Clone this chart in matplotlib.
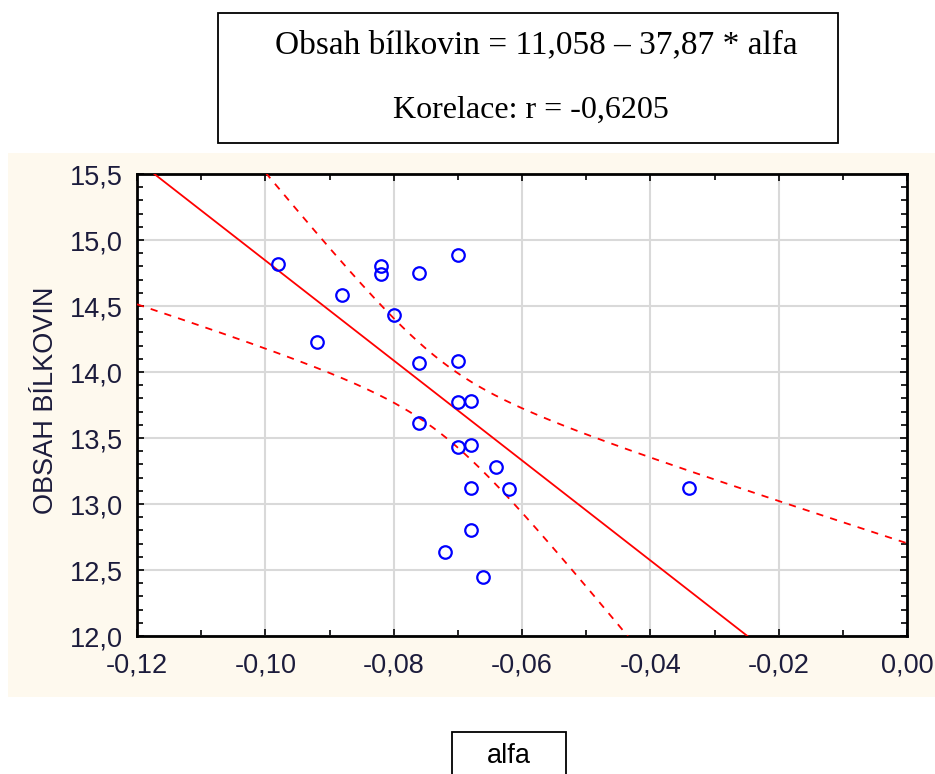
import matplotlib.pyplot as plt
import numpy as np
from matplotlib.patches import Rectangle
from matplotlib.ticker import MultipleLocator, FuncFormatter

# data
alfa = [-0.098, -0.070, -0.082, -0.082, -0.076, -0.088, -0.080, -0.092,
        -0.076, -0.070, -0.070, -0.068, -0.076, -0.070, -0.068, -0.064,
        -0.068, -0.062, -0.068, -0.072, -0.066, -0.034]
bilkoviny = [14.82, 14.89, 14.80, 14.74, 14.75, 14.58, 14.43, 14.23,
             14.07, 14.08, 13.77, 13.78, 13.61, 13.43, 13.45, 13.28,
             13.12, 13.11, 12.80, 12.64, 12.45, 13.12]

# regression from the caption
intercept = 11.058
slope = -37.87
t_95 = 2.086  # t(0.975, df=20)

x_ticks = [-0.12, -0.10, -0.08, -0.06, -0.04, -0.02, 0.00]
y_ticks = [12.0, 12.5, 13.0, 13.5, 14.0, 14.5, 15.0, 15.5]

eq_text = "Obsah bílkovin = 11,058 \u2013 37,87 * alfa"
corr_text = "Korelace: r = -0,6205"
x_label = "alfa"
y_label = "OBSAH BÍLKOVIN"

W, H = 935, 774
fig = plt.figure(figsize=(W / 100, H / 100), dpi=100)
fig.patch.set_facecolor("white")


def fx(px):
    return px / W


def fy(py):
    return 1 - py / H


# cream panel behind the plot
fig.patches.append(Rectangle((fx(8), fy(697)), fx(935) - fx(8), fy(153) - fy(697),
                             transform=fig.transFigure, facecolor="#FEF9EE",
                             edgecolor="none", zorder=-10))

ax = fig.add_axes([fx(137), fy(636), fx(907) - fx(137), fy(174) - fy(636)])
ax.set_facecolor("white")

x = np.array(alfa)
y = np.array(bilkoviny)
n = len(x)
resid = y - (intercept + slope * x)
s = np.sqrt(np.sum(resid ** 2) / (n - 2))
sxx = np.sum((x - x.mean()) ** 2)

xs = np.linspace(-0.12, 0.0, 300)
fit = intercept + slope * xs
hw = t_95 * s * np.sqrt(1 / n + (xs - x.mean()) ** 2 / sxx)

ax.plot(xs, fit, color="red", lw=1.3, zorder=3)
ax.plot(xs, fit + hw, color="red", lw=1.3, ls=(0, (4, 4)), zorder=3)
ax.plot(xs, fit - hw, color="red", lw=1.3, ls=(0, (4, 4)), zorder=3)
ax.plot(x, y, "o", mfc="none", mec="blue", ms=9, mew=1.6, zorder=4)

ax.set_xlim(-0.12, 0.0)
ax.set_ylim(12.0, 15.5)
ax.set_xticks(x_ticks)
ax.set_yticks(y_ticks)
ax.xaxis.set_minor_locator(MultipleLocator(0.01))
ax.yaxis.set_minor_locator(MultipleLocator(0.1))
ax.xaxis.set_major_formatter(FuncFormatter(lambda v, p: f"{v:.2f}".replace(".", ",").replace("-0,00", "0,00")))
ax.yaxis.set_major_formatter(FuncFormatter(lambda v, p: f"{v:.1f}".replace(".", ",")))

ax.grid(True, which="major", color="#D9D9D9", lw=1.5)
ax.set_axisbelow(True)
ax.tick_params(which="both", direction="in", top=True, right=True, color="black")
ax.tick_params(which="major", length=5, width=1.2, labelsize=19.5, labelcolor="#1c1c3c")
ax.tick_params(axis="x", which="major", pad=12)
ax.tick_params(axis="y", which="major", pad=10)
ax.tick_params(which="minor", length=4, width=1.2)
for lab in ax.get_xticklabels() + ax.get_yticklabels():
    lab.set_family("Liberation Sans")
for sp in ax.spines.values():
    sp.set_linewidth(2)
    sp.set_color("black")

fig.text(fx(46), fy(400), y_label, rotation=90, ha="center", va="center",
         fontsize=19.5, family="Liberation Sans", color="#1c1c3c")

# caption box
fig.patches.append(Rectangle((fx(218), fy(143)), fx(838) - fx(218), fy(13) - fy(143),
                             transform=fig.transFigure, facecolor="white",
                             edgecolor="black", lw=1.3, zorder=2))
fig.text(fx(536), fy(45), eq_text, ha="center", va="center", fontsize=24,
         family="Liberation Serif", zorder=3)
fig.text(fx(531), fy(110), corr_text, ha="center", va="center", fontsize=23,
         family="Liberation Serif", zorder=3)

# x label box
fig.patches.append(Rectangle((fx(452), fy(790)), fx(566) - fx(452), fy(732) - fy(790),
                             transform=fig.transFigure, facecolor="white",
                             edgecolor="black", lw=1.3, zorder=2))
fig.text(fx(509), fy(756), x_label, ha="center", va="center", fontsize=19.5,
         family="Liberation Sans", zorder=3)

fig.savefig("out.png", dpi=100)
